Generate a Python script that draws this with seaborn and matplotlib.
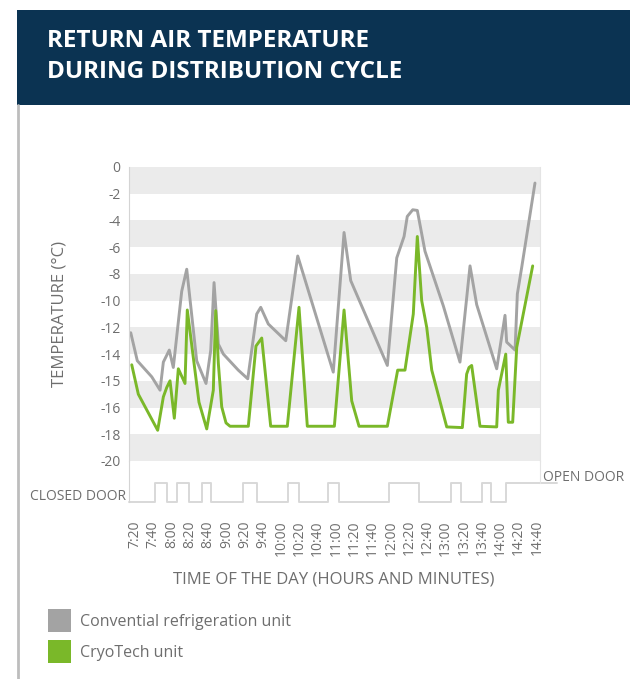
import matplotlib
matplotlib.use("Agg")
import matplotlib.pyplot as plt
from matplotlib.patches import Rectangle, Patch
from matplotlib.lines import Line2D
import seaborn as sns
import pandas as pd

# minutes after 7:20
conv_minutes = [-4.7, 2.5, 18.3, 27.4, 31, 37.5, 41.9, 51.1, 56.6, 67.5, 77.7, 82.9, 86.5, 91.2,
                96.7, 113, 123.4, 133.2, 137.6, 145.9, 165, 178.1, 217, 228.8, 236.1, 276.2,
                286.5, 294.5, 298, 304, 309, 317.4, 337.5, 355.7, 366.7, 374, 395.9, 405,
                406.8, 416, 418.5, 423.3, 437.8]
conv_temp = [-12.4, -14.5, -15.7, -16.7, -14.6, -13.7, -15.0, -9.3, -7.65, -14.5, -16.2, -13.7,
             -8.65, -13.25, -14.0, -15.2, -15.85, -11.0, -10.5, -11.75, -13.0, -6.66, -15.35,
             -4.9, -8.5, -14.85, -6.8, -5.2, -3.7, -3.2, -3.25, -6.3, -10.4, -14.6, -7.4,
             -10.3, -15.1, -11.1, -13.1, -13.7, -9.5, -7.5, -1.2]

cryo_minutes = [-3.6, 3.6, 24.8, 31, 34.7, 38.3, 43, 47.4, 54.7, 57.2, 70, 78.5, 85.7, 88.3,
                91.2, 94.9, 99.6, 104, 124, 132.4, 138.7, 148.5, 166.7, 179.5, 188.6, 218.2,
                228.8, 237.2, 245.2, 276.2, 287.5, 295.5, 304.6, 309, 313.8, 319.3, 324.8,
                341.2, 358.3, 363, 365.6, 368.5, 377.6, 395.9, 397.7, 405.8, 408.6, 413.4,
                417.8, 435.3]
cryo_temp = [-14.8, -17.0, -19.7, -17.2, -16.5, -16.0, -18.8, -15.1, -16.2, -10.7, -17.6, -19.6,
             -16.7, -10.75, -14.7, -17.95, -19.15, -19.4, -19.4, -13.4, -12.8, -19.4, -19.4,
             -10.5, -19.4, -19.4, -10.7, -17.5, -19.4, -19.4, -15.2, -15.2, -11.0, -5.2, -10.0,
             -12.0, -15.2, -19.45, -19.5, -15.5, -15.0, -14.85, -19.4, -19.45, -16.7, -14.0,
             -19.1, -19.1, -13.5, -7.4]

door_minutes = [-6.6, 21.9, 34.7, 45.6, 59.4, 73.7, 83.2, 117.9, 133.9, 167.8, 179.8, 211.6,
                223.3, 278.3, 311.2, 345.6, 356.5, 379.5, 389.3, 406.4, 462]
door_open = [0, 1, 0, 1, 0, 1, 0, 1, 0, 1, 0, 1, 0, 1, 0, 1, 0, 1, 0, 1, 1]

series_names = ["Convential refrigeration unit", "CryoTech unit"]
series_colors = ["#a3a3a3", "#7ab829"]

time_labels = ["7:20", "7:40", "8:00", "8:20", "8:40", "9:00", "9:20", "9:40", "10:00",
               "10:20", "10:40", "11:00", "11:20", "11:40", "12:00", "12:20", "12:40",
               "13:00", "13:20", "13:40", "14:00", "14:20", "14:40"]
y_ticks = [0, -2, -4, -6, -8, -10, -12, -14, -16, -18, -20, -22]
y_labels = ["0", "-2", "-4", "-6", "-8", "-10", "-12", "-14", "-15", "-16", "-18", "-20"]

df = pd.concat([
    pd.DataFrame({"minute": conv_minutes, "temp": conv_temp, "unit": series_names[0]}),
    pd.DataFrame({"minute": cryo_minutes, "temp": cryo_temp, "unit": series_names[1]}),
])

sns.set_style("white")
plt.rcParams["font.family"] = ["Open Sans", "DejaVu Sans"]
txt = "#6e6e6e"

W, H = 630, 679
fig = plt.figure(figsize=(W / 100, H / 100), dpi=100)

# header
fig.add_artist(Rectangle((17 / W, 1 - 105 / H), 1, 95 / H, transform=fig.transFigure,
                         color="#0b3352", lw=0))
fig.add_artist(Line2D([17.5 / W, 17.5 / W], [0, 1 - 105 / H], transform=fig.transFigure,
                      color="#bdbdbd", lw=2))
fig.text(47 / W, 1 - 41 / H, "RETURN AIR TEMPERATURE", color="white", fontsize=17.5,
         fontweight="bold", va="center")
fig.text(47 / W, 1 - 72 / H, "DURING DISTRIBUTION CYCLE", color="white", fontsize=17.5,
         fontweight="bold", va="center")

left, width = 129 / W, 411 / W
ax = fig.add_axes([left, 1 - 461 / H, width, 294 / H])
ax_door = fig.add_axes([left, 1 - 502 / H, width, 41 / H], sharex=ax)

for i in range(0, len(y_ticks) - 1, 2):
    ax.axhspan(y_ticks[i + 1], y_ticks[i], color="#ebebeb", lw=0, zorder=0)

sns.lineplot(data=df, x="minute", y="temp", hue="unit", palette=series_colors,
             estimator=None, sort=False, lw=2.1, legend=False, ax=ax)

ax.set_xlim(-6.6, 443.3)
ax.set_ylim(y_ticks[-1], y_ticks[0])
ax.set_yticks(y_ticks, y_labels)
ax.tick_params(axis="y", length=0, pad=6, labelsize=10, labelcolor=txt)
ax.tick_params(axis="x", length=0, labelbottom=False)
ax.set_xlabel("")
ax.set_ylabel("")
for s in ["top", "bottom"]:
    ax.spines[s].set_visible(False)
ax.spines["left"].set_color("#d4d4d4")
ax.spines["right"].set_color("#e4e4e4")

# door signal
ax_door.plot(door_minutes, door_open, drawstyle="steps-post", color="#d8d8d8", lw=1.4,
             clip_on=False)
ax_door.set_ylim(0, 41 / 19)
ax_door.set_facecolor("none")
ax_door.set_yticks([])
ax_door.set_xticks([i * 20 for i in range(len(time_labels))], time_labels, rotation=90)
ax_door.tick_params(axis="x", length=0, pad=13, labelsize=10, labelcolor=txt)
for s in ["top", "bottom"]:
    ax_door.spines[s].set_visible(False)
ax_door.spines["left"].set_color("#d4d4d4")
ax_door.spines["right"].set_color("#e4e4e4")
ax_door.spines["right"].set_bounds(1, 41 / 19)
ax_door.annotate("CLOSED DOOR", xy=(0, 0), xycoords=("axes fraction", "data"),
                 xytext=(-2, 4), textcoords="offset points", ha="right", va="center",
                 fontsize=10, color=txt)
ax_door.annotate("OPEN DOOR", xy=(1, 1), xycoords=("axes fraction", "data"),
                 xytext=(2, 4), textcoords="offset points", ha="left", va="center",
                 fontsize=10, color=txt)

fig.text(60 / W, 1 - 314 / H, "TEMPERATURE (°C)", rotation=90, ha="center", va="center",
         fontsize=12, color=txt)
fig.text(334 / W, 1 - 580 / H, "TIME OF THE DAY (HOURS AND MINUTES)", ha="center",
         va="center", fontsize=12, color=txt)

handles = [Patch(facecolor=c, edgecolor="none") for c in series_colors]
fig.legend(handles, series_names, loc="upper left", bbox_to_anchor=(48 / W, 1 - 609 / H),
           frameon=False, borderpad=0, borderaxespad=0, fontsize=11.5, labelcolor=txt,
           handlelength=1.44, handleheight=1.84, handletextpad=0.55, labelspacing=0.5)

fig.savefig("out.png", dpi=100)
